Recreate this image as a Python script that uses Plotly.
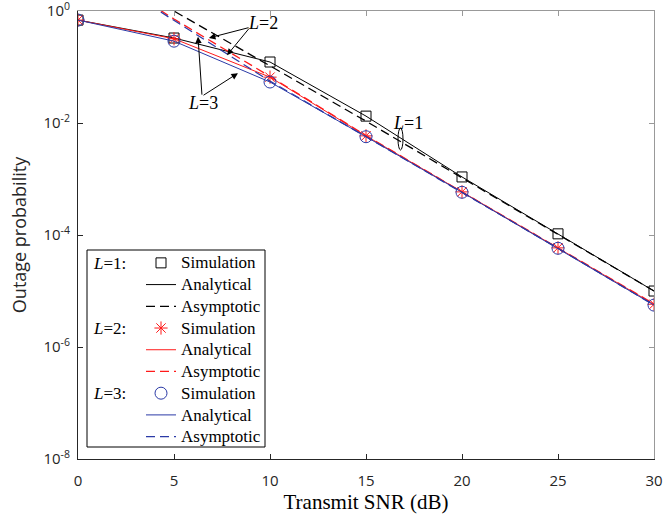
import plotly.graph_objects as go

# ---------------- data ----------------
snr_db = [0, 5, 10, 15, 20, 25, 30]

sim_L1 = [0.69, 0.33, 0.123, 0.0133, 1.09e-3, 1.05e-4, 1.0e-5]
ana_L1 = [0.69, 0.33, 0.123, 0.0133, 1.09e-3, 1.05e-4, 1.0e-5]
asy_L1 = [10.0, 1.0, 0.105, 0.0108, 1.05e-3, 1.02e-4, 1.0e-5]

sim_L2 = [0.69, 0.32, 0.066, 5.9e-3, 5.9e-4, 5.9e-5, 5.8e-6]
ana_L2 = [0.69, 0.32, 0.066, 5.9e-3, 5.9e-4, 5.9e-5, 5.8e-6]
asy_L2 = [9.1, 0.72, 0.068, 6.0e-3, 5.9e-4, 5.9e-5, 5.9e-6]

sim_L3 = [0.69, 0.29, 0.054, 5.7e-3, 5.8e-4, 5.8e-5, 5.6e-6]
ana_L3 = [0.69, 0.29, 0.054, 5.7e-3, 5.8e-4, 5.8e-5, 5.6e-6]
asy_L3 = [8.3, 0.67, 0.056, 5.7e-3, 5.8e-4, 5.8e-5, 5.6e-6]

x_ticks = [0, 5, 10, 15, 20, 25, 30]
y_tickvals = [1e-8, 1e-6, 1e-4, 1e-2, 1]
y_ticktext = ["10<sup>-8</sup>", "10<sup>-6</sup>", "10<sup>-4</sup>", "10<sup>-2</sup>", "10<sup>0</sup>"]

# ---------------- styles ----------------
BLACK = "#000000"
RED = "#FF1A1A"
BLUE = "#2B3AA6"
DASH = "9px,5px"
SERIF = "Liberation Serif"
SANS = "Open Sans"

fig = go.Figure()

def leg(txt):
    return '<span style="font-size:17px">' + txt + '</span>'

def add_group(sim, ana, asy, color, symbol, msize):
    fig.add_trace(go.Scatter(x=snr_db, y=sim, mode="markers", name=leg("Simulation"),
                             marker=dict(symbol=symbol, size=msize, color=color,
                                         line=dict(color=color, width=1))))
    fig.add_trace(go.Scatter(x=snr_db, y=ana, mode="lines", name=leg("Analytical"),
                             line=dict(color=color, width=1)))
    fig.add_trace(go.Scatter(x=snr_db, y=asy, mode="lines", name=leg("Asymptotic"),
                             line=dict(color=color, width=1.3, dash=DASH)))

add_group(sim_L1, ana_L1, asy_L1, BLACK, "square-open", 10)
add_group(sim_L2, ana_L2, asy_L2, RED, "asterisk-open", 11)
add_group(sim_L3, ana_L3, asy_L3, BLUE, "circle-open", 12)

# dummy trace for the top/right box axes
fig.add_trace(go.Scatter(x=[None], y=[None], xaxis="x2", yaxis="y2",
                         showlegend=False, hoverinfo="skip"))

# ---------------- annotations ----------------
# (positions in data units: x in dB, y in log10)
arrow_heads = [(6.82, -0.48), (7.76, -0.79), (6.25, -0.46), (8.33, -1.11)]
arrow_tails = [(8.96, -0.29), (8.96, -0.29), (6.46, -1.52), (6.46, -1.52)]
annos = []
for (hx, hy), (tx, ty) in zip(arrow_heads, arrow_tails):
    annos.append(dict(x=hx, y=hy, ax=tx, ay=ty, xref="x", yref="y", axref="x", ayref="y",
                      text="", showarrow=True, arrowhead=2, arrowsize=1.3,
                      arrowwidth=1, arrowcolor=BLACK))
label_pos = [("<i>L</i>=2", 9.64, -0.21), ("<i>L</i>=3", 6.51, -1.64), ("<i>L</i>=1", 17.19, -2.0)]
for txt, lx, ly in label_pos:
    annos.append(dict(x=lx, y=ly, xref="x", yref="y", text=txt, showarrow=False,
                      font=dict(family=SERIF, size=18, color=BLACK)))

def px_x(p):
    return (p - 78) / 576.0

def px_y(p):
    return (459 - p) / 448.0

for txt, py in [("<i>L</i>=1:", 263), ("<i>L</i>=2:", 328), ("<i>L</i>=3:", 393)]:
    annos.append(dict(x=px_x(91), y=px_y(py), xref="paper", yref="paper", xanchor="left",
                      yanchor="middle", text=txt, showarrow=False,
                      font=dict(family=SERIF, size=17, color=BLACK)))

shapes = [
    dict(type="rect", xref="paper", yref="paper", x0=px_x(87), x1=px_x(265),
         y0=px_y(447), y1=px_y(250), line=dict(color=BLACK, width=1),
         fillcolor="white", layer="below"),
    dict(type="circle", xref="paper", yref="paper", x0=px_x(398), x1=px_x(403),
         y0=px_y(150), y1=px_y(128), line=dict(color=BLACK, width=1)),
]

fig.update_layout(
    width=670, height=518,
    margin=dict(l=78, r=16, t=11, b=59, autoexpand=False),
    paper_bgcolor="white", plot_bgcolor="white",
    showlegend=True,
    legend=dict(x=px_x(141), y=px_y(247), xanchor="left", yanchor="top",
                bgcolor="rgba(0,0,0,0)", borderwidth=0,
                font=dict(family=SERIF, size=14.4, color=BLACK),
                tracegroupgap=0),
    xaxis=dict(range=[0, 30], tickvals=x_ticks, ticks="inside", ticklen=5,
               showline=True, linecolor="#262626", linewidth=1, tickcolor="#262626",
               showgrid=False, zeroline=False, ticklabelstandoff=8, automargin=False,
               tickfont=dict(family=SANS, size=15, color="#262626"),
               title=dict(text="Transmit SNR (dB)", font=dict(family=SERIF, size=21, color=BLACK),
                          standoff=5)),
    yaxis=dict(type="log", range=[-8, 0.001], tickvals=y_tickvals, ticktext=y_ticktext,
               ticks="inside", ticklen=5, showline=True, linecolor="#262626", linewidth=1,
               tickcolor="#262626", showgrid=False, zeroline=False, automargin=False,
               ticklabeloverflow="allow", ticklabelstandoff=4,
               tickfont=dict(family=SANS, size=15, color="#262626"),
               title=dict(text="Outage probability", font=dict(family=SANS, size=18, color="#262626"),
                          standoff=12)),
    xaxis2=dict(overlaying="x", side="top", anchor="y2", range=[0, 30], tickvals=x_ticks,
                ticks="inside", ticklen=5, showline=True, linecolor="#999999", automargin=False,
                tickcolor="#999999", showticklabels=False, showgrid=False, zeroline=False),
    yaxis2=dict(overlaying="y", side="right", anchor="x2", type="log", range=[-8, 0.001],
                tickvals=y_tickvals, ticks="inside", ticklen=5, showline=True, automargin=False,
                linecolor="#999999", tickcolor="#999999", showticklabels=False,
                showgrid=False, zeroline=False),
    annotations=annos,
    shapes=shapes,
)

fig.write_html("out.html")
